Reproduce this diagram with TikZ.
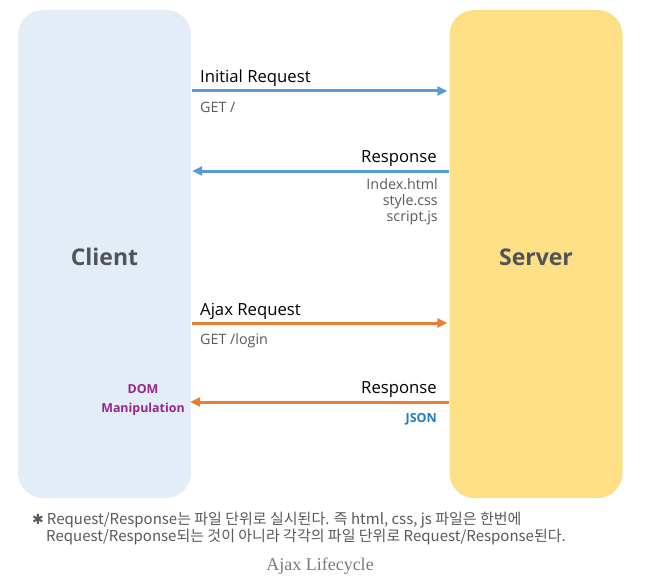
\documentclass[tikz,border=0pt]{standalone}
\usepackage{fontspec}
\setmainfont{Open Sans}
\newfontfamily\krfont{Noto Sans CJK KR}
\newfontfamily\capfont{Liberation Serif}
\newfontfamily\symfont{DejaVu Sans}
\usetikzlibrary{arrows.meta, positioning}

\definecolor{clientfill}{HTML}{E2EDF7}
\definecolor{serverfill}{HTML}{FDDF85}
\definecolor{reqblue}{HTML}{5B9BD5}
\definecolor{ajaxorange}{HTML}{ED7D31}
\definecolor{labelgray}{HTML}{595959}
\definecolor{titlegray}{HTML}{505458}
\definecolor{dompurple}{HTML}{93278F}
\definecolor{jsonblue}{HTML}{1F7BC4}

\tikzset{
  party/.style={rectangle, rounded corners=25pt, minimum width=173pt, minimum height=488pt,
    inner sep=0pt, font=\fontsize{23}{27}\selectfont\bfseries, text=titlegray,
    text height=23pt, text depth=0pt},
  msg/.style={line width=3pt, -{Triangle[length=10pt,width=9pt]}},
  msgname/.style={font=\fontsize{16.7}{20}\selectfont, inner sep=0pt},
  payload/.style={font=\fontsize{14.3}{16}\selectfont, text=labelgray, inner sep=0pt, align=right},
}

\begin{document}
\begin{tikzpicture}[x=1pt, y=-1pt]
  \useasboundingbox (0,0) rectangle (651,578);

  % the two sides
  \node[party, fill=clientfill] (client) at (104.5,254) {Client};
  \node[party, fill=serverfill] (server) at (536,254) {Server};

  % heights of the four messages
  \coordinate (m1) at (0,91);
  \coordinate (m2) at (0,171);
  \coordinate (m3) at (0,323);
  \coordinate (m4) at (0,402);

  % first page load
  \draw[msg, reqblue] ([xshift=1pt]client.east |- m1) coordinate (m1s) -- ([xshift=-2pt]server.west |- m1) coordinate (m1e);
  \node[msgname, anchor=base west] (ireq) at (200,83) {Initial Request};
  \node[payload, anchor=base west] (iget) at (200,113) {GET /};

  \draw[msg, reqblue] (server.west |- m2) coordinate (m2s) -- ([xshift=1pt]client.east |- m2) coordinate (m2e);
  \node[msgname, anchor=base east] (iresp) at (437,162) {Response};
  \node[payload, anchor=north east] (ifiles) at (438,178) {Index.html\\style.css\\script.js};

  % ajax call
  \draw[msg, ajaxorange] ([xshift=1pt]client.east |- m3) coordinate (m3s) -- ([xshift=-2pt]server.west |- m3) coordinate (m3e);
  \node[msgname, anchor=base west] (areq) at (200,315) {Ajax Request};
  \node[payload, anchor=base west] (aget) at (200,344) {GET /login};

  \draw[msg, ajaxorange] (server.west |- m4) coordinate (m4s) -- ([xshift=-1pt]client.east |- m4) coordinate (m4e);
  \node[msgname, anchor=base east] (aresp) at (437,393) {Response};
  \node[payload, anchor=base east, font=\fontsize{12.5}{14}\selectfont\bfseries, text=jsonblue] (ajson) at (437,422) {JSON};

  \node[font=\fontsize{12.4}{19}\selectfont\bfseries, text=dompurple, align=center, inner sep=0pt] (dom) at (143,400) {DOM\\Manipulation};

  % note and caption
  \node[anchor=north west, inner sep=0pt, align=left, font=\krfont\fontsize{15}{16.5}\selectfont, text=labelgray] (note) at (32,512)
    {{\symfont\fontsize{14}{14}\selectfont ✱}\hspace{3pt}Request/Response는 파일 단위로 실시된다. 즉 html, css, js 파일은 한번에\\
     \hspace*{14pt}Request/Response되는 것이 아니라 각각의 파일 단위로 Request/Response된다.};
  \node[font=\capfont\fontsize{18}{20}\selectfont, text=labelgray!80] (caption) at (320,566) {Ajax Lifecycle};
\end{tikzpicture}
\end{document}
